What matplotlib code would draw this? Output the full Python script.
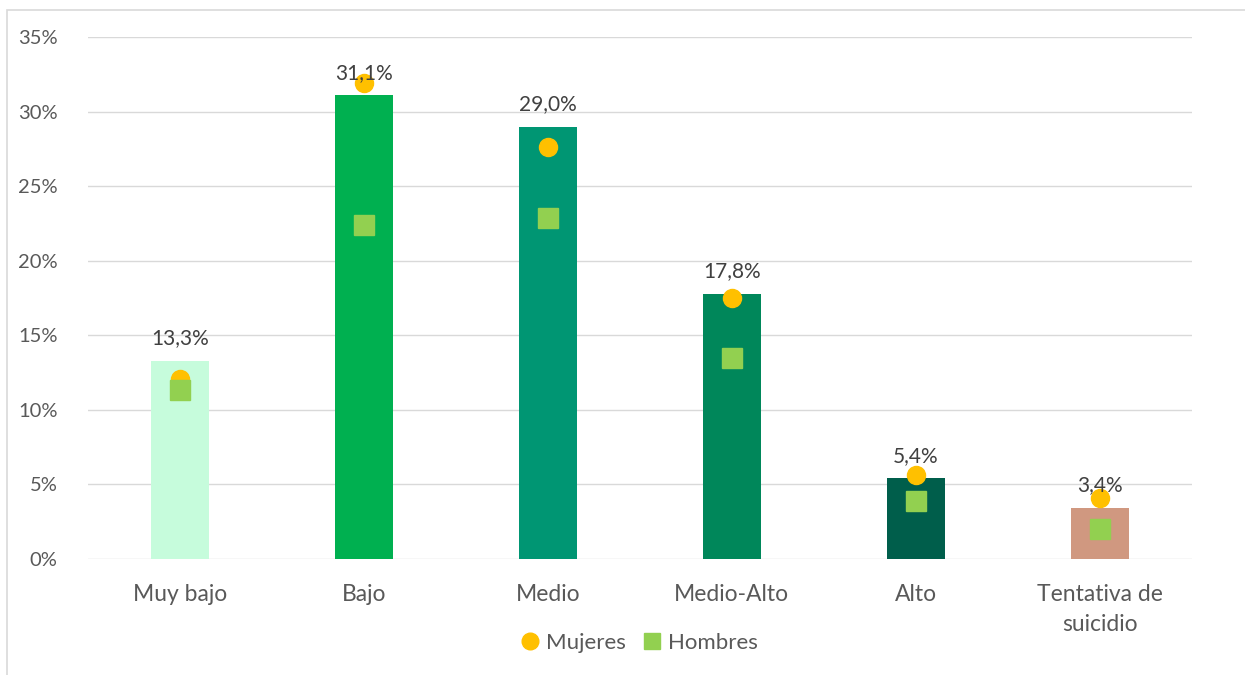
import numpy as np
import matplotlib.pyplot as plt
from matplotlib.patches import Rectangle
from matplotlib.lines import Line2D

# Data
categorias = ['Muy bajo', 'Bajo', 'Medio', 'Medio-Alto', 'Alto', 'Tentativa de\nsuicidio']
total = [13.3, 31.1, 29.0, 17.8, 5.4, 3.4]
mujeres = [12.1, 31.9, 27.6, 17.5, 5.6, 4.1]
hombres = [11.3, 22.4, 22.9, 13.5, 3.9, 2.0]
etiquetas = ['13,3%', '31,1%', '29,0%', '17,8%', '5,4%', '3,4%']
colores = ['#C6FCDC', '#00B050', '#009673', '#00875A', '#005E4B', '#D09880']

plt.rcParams['font.family'] = ['Lato', 'DejaVu Sans']
fig = plt.figure(figsize=(12.45, 6.75), dpi=100)
ax = fig.add_axes([0.0707, 0.172, 0.8866, 0.773])

x = np.arange(len(categorias))
ax.bar(x, total, width=0.315, color=colores, zorder=2)
ax.plot(x, mujeres, 'o', color='#FFC000', markersize=13, zorder=3, label='Mujeres')
ax.plot(x, hombres, 's', color='#92D050', markersize=14, zorder=4, label='Hombres')

for xi, v, t in zip(x, total, etiquetas):
    ax.text(xi, v + 0.85, t, ha='center', va='bottom', fontsize=15, color='#404040', zorder=5)

ax.set_xlim(-0.5, len(categorias) - 0.5)
ax.set_ylim(0, 35)
ax.set_yticks(np.arange(0, 36, 5))
ax.set_yticklabels([f'{v}%' for v in range(0, 36, 5)])
ax.set_xticks(x)
ax.set_xticklabels(categorias, fontsize=16.5, linespacing=1.55)
ax.grid(axis='y', color='#D9D9D9', linewidth=1, zorder=0)
ax.set_axisbelow(True)
for s in ax.spines.values():
    s.set_visible(False)
ax.tick_params(axis='both', length=0, colors='#595959')
ax.tick_params(axis='y', labelsize=14.5, pad=22)
ax.tick_params(axis='x', pad=18)

handles = [Line2D([], [], marker='o', ls='', color='#FFC000', markersize=12),
           Line2D([], [], marker='s', ls='', color='#92D050', markersize=12)]
fig.legend(handles, ['Mujeres', 'Hombres'], loc='center', bbox_to_anchor=(0.512, 0.047),
           ncol=2, frameon=False, fontsize=16, labelcolor='#595959',
           handletextpad=0.1, columnspacing=0.6, handlelength=1.2)

fig.patches.append(Rectangle((7 / 1245, -0.01), 1.01, 1 - 10 / 675 + 0.01, transform=fig.transFigure,
                             fill=False, edgecolor='#D9D9D9', linewidth=1.2))

fig.savefig('out.png', dpi=100)
